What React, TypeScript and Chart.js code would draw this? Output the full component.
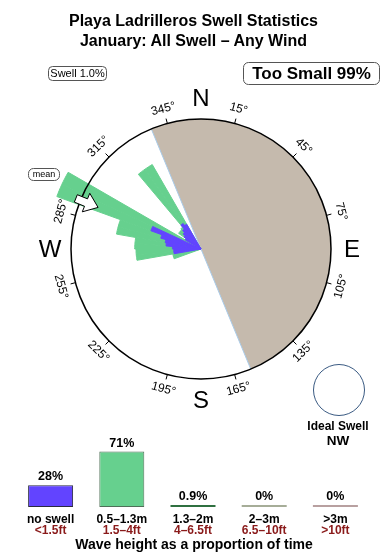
import React, { useEffect, useRef } from "react";
import { Chart, registerables } from "chart.js";

Chart.register(...registerables);

const FONT = '"Liberation Sans", Arial, Helvetica, sans-serif';

const titleLines = ["Playa Ladrilleros Swell Statistics", "January: All Swell – Any Wind"];

// ---- swell rose (direction bins of 5°, values in % of outer circle) ----
const binWidth = 5;
const roseBins = [250, 255, 260, 265, 270, 275, 280, 285, 290, 295, 300, 305, 310, 315, 320, 325];
const smallSwellRose = [0, 0, 21, 21, 22, 27, 28, 32, 41, 0, 14, 16, 18, 20, 24, 22];
const mediumSwellRose = [22, 22, 29, 29, 29, 24, 38, 34, 77, 118, 0, 5, 3, 2, 51, 53];
const roseMax = 100;

const shelteredFrom = 337.5;
const shelteredTo = 157.5;
const meanDirection = 292;

const degreeTicks = [15, 45, 75, 105, 135, 165, 195, 225, 255, 285, 315, 345];
const compassLabels = ["N", "E", "S", "W"];
const compassBearings = [0, 90, 180, 270];

const swellScaleLabel = "Swell 1.0%";
const tooSmallLabel = "Too Small 99%";
const meanLabel = "mean";
const idealLabel = "Ideal Swell";
const idealDirection = "NW";

// ---- wave height distribution ----
const heightCategories = ["no swell", "0.5–1.3m", "1.3–2m", "2–3m", ">3m"];
const heightFeet = ["<1.5ft", "1.5–4ft", "4–6.5ft", "6.5–10ft", ">10ft"];
const heightShare = [28, 71, 0.9, 0, 0];
const heightAxisTitle = "Wave height as a proportion of time";

const BLUE = "#6244ff";
const GREEN = "#66d08e";
const SHADOW = "#c5baad";

const binCount = 360 / binWidth;
const binLabels = Array.from({ length: binCount }, (_, i) => `${i * binWidth}°`);
function spread(vals: number[]): number[] {
  const arr = new Array(binCount).fill(0);
  roseBins.forEach((b, k) => {
    arr[Math.round(b / binWidth)] = vals[k];
  });
  return arr;
}

function toCanvasAngle(bearing: number) {
  return ((bearing - 90) * Math.PI) / 180;
}
function polarPoint(s: any, r: number, bearing: number, t = 0): [number, number] {
  const th = (bearing * Math.PI) / 180;
  return [s.xCenter + r * Math.sin(th) + t * Math.cos(th), s.yCenter - r * Math.cos(th) + t * Math.sin(th)];
}
function roundBox(ctx: CanvasRenderingContext2D, x: number, y: number, w: number, h: number, r: number) {
  ctx.beginPath();
  if ((ctx as any).roundRect) (ctx as any).roundRect(x, y, w, h, r);
  else ctx.rect(x, y, w, h);
}

const rosePlugin = {
  id: "roseDecor",
  beforeDatasetsDraw(chart: any) {
    const s = chart.scales.r;
    const ctx: CanvasRenderingContext2D = chart.ctx;
    const R = s.getDistanceFromCenterForValue(roseMax);
    ctx.save();
    ctx.beginPath();
    ctx.moveTo(s.xCenter, s.yCenter);
    ctx.arc(s.xCenter, s.yCenter, R, toCanvasAngle(shelteredFrom), toCanvasAngle(shelteredTo));
    ctx.closePath();
    ctx.fillStyle = SHADOW;
    ctx.fill();
    const a = polarPoint(s, R, shelteredFrom);
    const b = polarPoint(s, R, shelteredTo);
    ctx.beginPath();
    ctx.moveTo(a[0], a[1]);
    ctx.lineTo(b[0], b[1]);
    ctx.strokeStyle = "#a9cbe9";
    ctx.lineWidth = 1;
    ctx.stroke();
    ctx.restore();
  },
  afterDraw(chart: any) {
    const s = chart.scales.r;
    const ctx: CanvasRenderingContext2D = chart.ctx;
    const R = s.getDistanceFromCenterForValue(roseMax);
    ctx.save();
    // degree ticks and labels
    ctx.strokeStyle = "#000";
    ctx.lineWidth = 1;
    ctx.fillStyle = "#000";
    ctx.font = `12px ${FONT}`;
    ctx.textAlign = "center";
    ctx.textBaseline = "middle";
    degreeTicks.forEach((d) => {
      const p1 = polarPoint(s, R, d);
      const p2 = polarPoint(s, R + 5, d);
      ctx.beginPath();
      ctx.moveTo(p1[0], p1[1]);
      ctx.lineTo(p2[0], p2[1]);
      ctx.stroke();
      const rot = d < 90 ? d : d < 270 ? d - 180 : d - 360;
      const p = polarPoint(s, R + 15, d);
      ctx.save();
      ctx.translate(p[0], p[1]);
      ctx.rotate((rot * Math.PI) / 180);
      ctx.fillText(`${d}°`, 0, 0);
      ctx.restore();
    });
    // compass letters
    ctx.font = `24px ${FONT}`;
    compassLabels.forEach((l, i) => {
      const p = polarPoint(s, R + 21, compassBearings[i]);
      ctx.fillText(l, p[0], p[1] + 1);
    });
    // mean arrow
    const pts: [number, number][] = [
      [111, 0], [124, 10], [124, 4], [135, 4], [135, -4], [124, -4], [124, -10],
    ];
    const f = R / 130;
    ctx.beginPath();
    pts.forEach(([r, t], i) => {
      const p = polarPoint(s, r * f, meanDirection, t);
      if (i === 0) ctx.moveTo(p[0], p[1]);
      else ctx.lineTo(p[0], p[1]);
    });
    ctx.closePath();
    ctx.fillStyle = "#fff";
    ctx.fill();
    ctx.strokeStyle = "#000";
    ctx.stroke();
    // boxes
    ctx.lineWidth = 1;
    ctx.strokeStyle = "#555";
    ctx.fillStyle = "#fff";
    roundBox(ctx, 28.5, 168.5, 31, 12, 5);
    ctx.fill();
    ctx.stroke();
    roundBox(ctx, 48.5, 66.5, 58, 14, 4);
    ctx.fill();
    ctx.stroke();
    roundBox(ctx, 243.5, 62.5, 136, 22, 5);
    ctx.fill();
    ctx.stroke();
    ctx.fillStyle = "#000";
    ctx.font = `9px ${FONT}`;
    ctx.fillText(meanLabel, 44, 174.5);
    ctx.font = `11px ${FONT}`;
    ctx.fillText(swellScaleLabel, 77.5, 73.5);
    ctx.font = `bold 17px ${FONT}`;
    ctx.fillText(tooSmallLabel, 311.5, 74);
    // ideal swell
    ctx.beginPath();
    ctx.arc(339, 390, 25.5, 0, Math.PI * 2);
    ctx.strokeStyle = "#3a5a82";
    ctx.stroke();
    ctx.textBaseline = "alphabetic";
    ctx.font = `bold 12px ${FONT}`;
    ctx.fillText(idealLabel, 338, 429.5);
    ctx.font = `bold 13.5px ${FONT}`;
    ctx.fillText(idealDirection, 338, 445);
    ctx.restore();
  },
};

const barPlugin = {
  id: "barDecor",
  afterDraw(chart: any) {
    const ctx: CanvasRenderingContext2D = chart.ctx;
    const meta = chart.getDatasetMeta(0);
    const area = chart.chartArea;
    ctx.save();
    ctx.textAlign = "center";
    ctx.textBaseline = "alphabetic";
    meta.data.forEach((el: any, i: number) => {
      ctx.fillStyle = "#000";
      ctx.font = `bold 12.5px ${FONT}`;
      ctx.fillText(`${heightShare[i]}%`, el.x, el.y - 5);
      ctx.font = `bold 12px ${FONT}`;
      ctx.fillText(heightCategories[i], el.x, area.bottom + 16);
      ctx.fillStyle = "#8a1a1a";
      ctx.fillText(heightFeet[i], el.x, area.bottom + 27);
    });
    ctx.fillStyle = "#000";
    ctx.font = `bold 14px ${FONT}`;
    ctx.fillText(heightAxisTitle, (area.left + area.right) / 2 + 1, area.bottom + 41.5);
    ctx.restore();
  },
};

export default function App() {
  const roseRef = useRef<HTMLCanvasElement | null>(null);
  const barRef = useRef<HTMLCanvasElement | null>(null);

  useEffect(() => {
    const rose = new Chart(roseRef.current as HTMLCanvasElement, {
      type: "polarArea",
      data: {
        labels: binLabels,
        datasets: [
          {
            label: "<1.5ft",
            data: spread(smallSwellRose),
            backgroundColor: BLUE,
            borderColor: BLUE,
            borderWidth: 1,
            clip: false,
          } as any,
          {
            label: "0.5–1.3m",
            data: spread(smallSwellRose.map((v, k) => v + mediumSwellRose[k])),
            backgroundColor: GREEN,
            borderColor: GREEN,
            borderWidth: 1,
            clip: false,
          } as any,
        ],
      },
      options: {
        animation: false,
        responsive: false,
        events: [],
        layout: { padding: { left: 71, right: 59, top: 119, bottom: 181 } },
        plugins: { legend: { display: false }, tooltip: { enabled: false } },
        scales: {
          r: {
            min: 0,
            max: roseMax,
            startAngle: 0,
            ticks: { display: false, stepSize: roseMax, z: 1 },
            grid: { display: true, circular: true, color: "#000", lineWidth: 1.5, z: 1 } as any,
            angleLines: { display: false },
            pointLabels: { display: false },
          },
        },
      },
      plugins: [rosePlugin],
    });

    const bars = new Chart(barRef.current as HTMLCanvasElement, {
      type: "bar",
      data: {
        labels: heightCategories,
        datasets: [
          {
            data: heightShare,
            backgroundColor: [BLUE, GREEN, "#2f7040", "#a6ad98", "#b8a0a0"],
            borderColor: ["#2a2a40", "#4f6f58", "#2f7040", "#a6ad98", "#b8a0a0"],
            borderWidth: [1, 1, 0, 0, 0],
            borderSkipped: false,
            minBarLength: 2,
            categoryPercentage: 1,
            barPercentage: 0.632,
          } as any,
        ],
      },
      options: {
        animation: false,
        responsive: false,
        events: [],
        layout: { padding: { left: 15, right: 19, top: 9, bottom: 53 } },
        plugins: { legend: { display: false }, tooltip: { enabled: false } },
        scales: {
          x: { display: false },
          y: { display: false, min: 0, max: 100 },
        },
      },
      plugins: [barPlugin],
    });

    return () => {
      rose.destroy();
      bars.destroy();
    };
  }, []);

  const titleStyle: React.CSSProperties = {
    position: "absolute",
    left: -1.5,
    width: 390,
    textAlign: "center",
    font: `bold 16px/16px ${FONT}`,
    color: "#000",
    whiteSpace: "nowrap",
  };

  return (
    <div style={{ position: "fixed", left: 0, top: 0, width: 390, height: 560, background: "#fff", overflow: "hidden" }}>
      <canvas ref={roseRef} width={390} height={560} style={{ position: "absolute", left: 0, top: 0 }} />
      <canvas ref={barRef} width={390} height={140} style={{ position: "absolute", left: 0, top: 420 }} />
      <div style={{ ...titleStyle, top: 12.5 }}>{titleLines[0]}</div>
      <div style={{ ...titleStyle, top: 33 }}>{titleLines[1]}</div>
    </div>
  );
}
